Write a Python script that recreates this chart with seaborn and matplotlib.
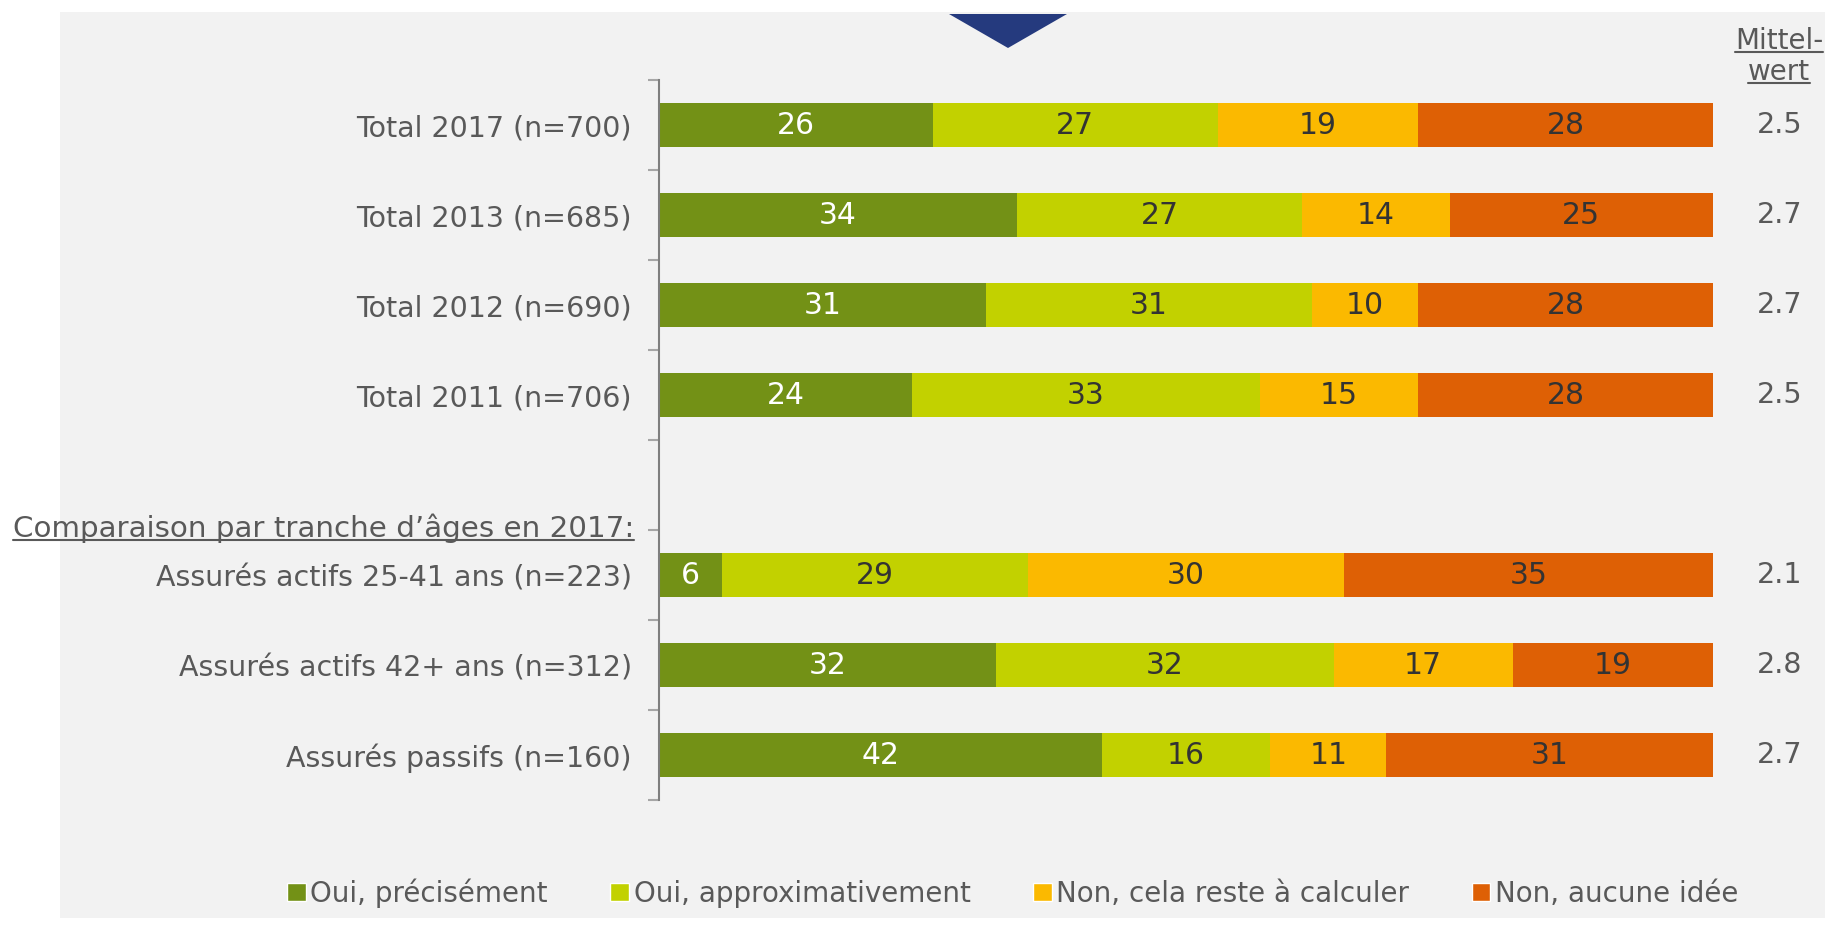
import numpy as np
import pandas as pd
import matplotlib
matplotlib.use("Agg")
import matplotlib.pyplot as plt
import matplotlib.transforms as mtransforms
from matplotlib.patches import Rectangle, Polygon, Patch
from matplotlib.lines import Line2D
import seaborn as sns

# data
categories = [
    "Total 2017 (n=700)",
    "Total 2013 (n=685)",
    "Total 2012 (n=690)",
    "Total 2011 (n=706)",
    "Assurés actifs 25-41 ans (n=223)",
    "Assurés actifs 42+ ans (n=312)",
    "Assurés passifs (n=160)",
]
oui_precisement = [26, 34, 31, 24, 6, 32, 42]
oui_approx = [27, 27, 31, 33, 29, 32, 16]
non_calculer = [19, 14, 10, 15, 30, 17, 11]
non_aucune = [28, 25, 28, 28, 35, 19, 31]
mittelwert = [2.5, 2.7, 2.7, 2.5, 2.1, 2.8, 2.7]

series_names = ["Oui, précisément", "Oui, approximativement",
                "Non, cela reste à calculer", "Non, aucune idée"]
colors = ["#739116", "#C2D100", "#FBB900", "#DE6005"]
label_colors = ["white", "#333333", "#333333", "#333333"]

# empty slot between the totals and the age groups
blank_slot = " "
order = categories[:4] + [blank_slot] + categories[4:]

sns.set_theme(style="white")
plt.rcParams["font.family"] = ["DejaVu Sans"]

grey_txt = "#595959"
W, H = 1825, 926

df = pd.DataFrame({"categorie": categories,
                   series_names[0]: oui_precisement,
                   series_names[1]: oui_approx,
                   series_names[2]: non_calculer,
                   series_names[3]: non_aucune})
cum = df[series_names].cumsum(axis=1)

fig = plt.figure(figsize=(W / 100, H / 100), dpi=100, facecolor="white")
fig.patches.append(Rectangle((60 / W, 8 / H), 1 - 60 / W, 906 / H,
                             transform=fig.transFigure, facecolor="#F2F2F2",
                             edgecolor="none", zorder=-10))
fig.patches.append(Polygon([[949 / W, 1 - 14 / H], [1067 / W, 1 - 14 / H],
                            [1008 / W, 1 - 48 / H]], closed=True,
                           transform=fig.transFigure, facecolor="#253A7E",
                           edgecolor="none"))

ax = fig.add_axes([659 / W, 126 / H, 1054 / W, 720 / H])
ax.set_facecolor("none")

# stacked bars: draw cumulative totals from the back to the front
for name, color in reversed(list(zip(series_names, colors))):
    sns.barplot(x=cum[name], y=df["categorie"], order=order, orient="h",
                color=color, saturation=1, width=0.48, linewidth=0,
                errorbar=None, ax=ax)

for i, cat in enumerate(categories):
    pos = order.index(cat)
    for j, name in enumerate(series_names):
        v = df.loc[i, name]
        ax.text(cum.loc[i, name] - v / 2, pos, str(v), ha="center", va="center",
                color=label_colors[j], fontsize=21.5)

trans = mtransforms.blended_transform_factory(ax.transAxes, ax.transData)
for cat, m in zip(categories, mittelwert):
    ax.text(1.0636, order.index(cat), f"{m:.1f}", transform=trans,
            ha="center", va="center", color=grey_txt, fontsize=20.5)

ax.set_xlim(0, 100)
ax.set_ylim(len(order) - 0.5, -0.5)
ax.set_xlabel("")
ax.set_ylabel("")
ax.set_xticks([])
ax.set_yticks(range(len(order)))
ax.set_yticklabels(order)
ax.set_yticks(np.arange(-0.5, len(order), 1), minor=True)
ax.tick_params(axis="y", which="major", length=0, pad=19.5,
               labelsize=20.5, labelcolor=grey_txt)
ax.tick_params(axis="y", which="minor", left=True, length=8, width=1.5,
               color="#A6A6A6")
for side in ["top", "right", "bottom"]:
    ax.spines[side].set_visible(False)
ax.spines["left"].set_color("#7F7F7F")
ax.spines["left"].set_linewidth(1.5)

underlined = [
    fig.text(634 / W, 1 - 537 / H, "Comparaison par tranche d’âges en 2017:",
             ha="right", va="baseline", fontsize=21.2, color=grey_txt),
    fig.text(1779 / W, 1 - 49 / H, "Mittel-", ha="center", va="baseline",
             fontsize=20, color=grey_txt),
    fig.text(1779 / W, 1 - 80 / H, "wert", ha="center", va="baseline",
             fontsize=20, color=grey_txt),
]

handles = [Patch(facecolor=c, label=n) for n, c in zip(series_names, colors)]
fig.legend(handles=handles, loc="center left", bbox_to_anchor=(287 / W, 33 / H),
           ncol=4, frameon=False, fontsize=20, handlelength=0.67,
           handleheight=0.67, handletextpad=0.17, columnspacing=2.25,
           borderpad=0, borderaxespad=0, labelcolor=grey_txt)

fig.canvas.draw()
renderer = fig.canvas.get_renderer()
for t in underlined:
    bb = t.get_window_extent(renderer)
    yb = fig.transFigure.transform(t.get_position())[1] - 3
    fig.add_artist(Line2D([bb.x0 / W, bb.x1 / W], [yb / H, yb / H],
                          transform=fig.transFigure, color=grey_txt, lw=1.5))

fig.savefig("out.png", dpi=100, facecolor=fig.get_facecolor())
